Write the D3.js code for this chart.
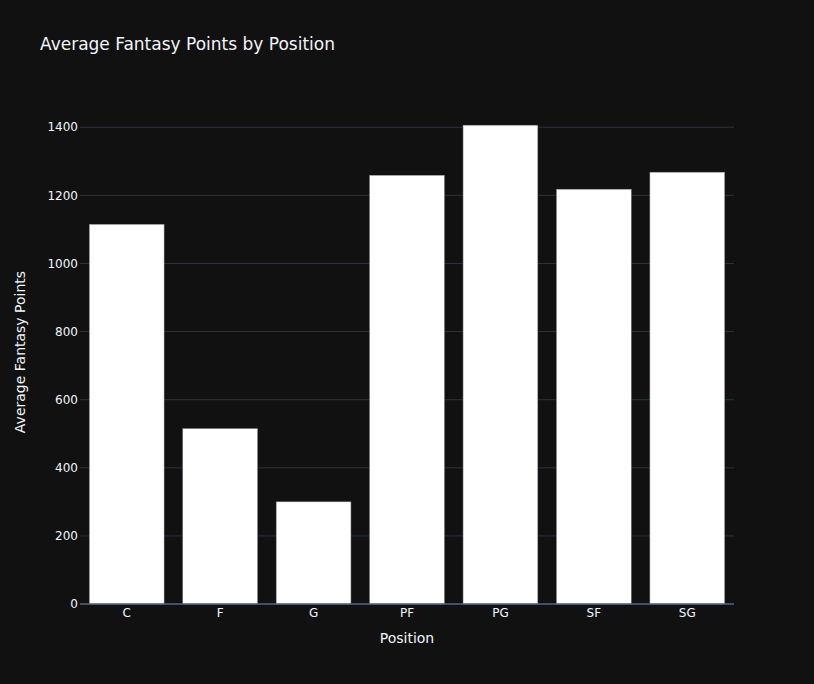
<!DOCTYPE html>
<html>
<head>
<meta charset="utf-8">
<script src="https://cdn.jsdelivr.net/npm/d3@7"></script>
<style>
  html, body { margin: 0; padding: 0; background: #111111; }
  svg { display: block; }
</style>
</head>
<body>
<div id="chart"></div>
<script>
// Dados do gráfico
const positions = ["C", "F", "G", "PF", "PG", "SF", "SG"];
const avgPoints = [1115, 515, 300, 1259, 1406, 1218, 1268];
const yTicks = [0, 200, 400, 600, 800, 1000, 1200, 1400];

const width = 814;
const height = 684;
const margin = { top: 100, right: 80, bottom: 80, left: 80 };
const font = '"DejaVu Sans", verdana, arial, sans-serif';
const textColor = "#f2f5fa";

const svg = d3.select("#chart")
    .append("svg")
    .attr("width", width)
    .attr("height", height)
    .style("background", "#111111");

const x = d3.scaleBand()
    .domain(positions)
    .range([margin.left, width - margin.right])
    .paddingInner(0.2)
    .paddingOuter(0.1);

const y = d3.scaleLinear()
    .domain([0, 1480])
    .range([height - margin.bottom, margin.top]);

// Grade horizontal
svg.append("g")
    .selectAll("line")
    .data(yTicks.filter(d => d > 0))
    .enter()
    .append("line")
    .attr("x1", margin.left)
    .attr("x2", width - margin.right)
    .attr("y1", d => y(d))
    .attr("y2", d => y(d))
    .attr("stroke", "#283442")
    .attr("stroke-width", 1);

// Barras
svg.append("g")
    .selectAll("rect")
    .data(positions)
    .enter()
    .append("rect")
    .attr("x", d => x(d))
    .attr("width", x.bandwidth())
    .attr("y", (d, i) => y(avgPoints[i]))
    .attr("height", (d, i) => y(0) - y(avgPoints[i]))
    .attr("fill", "#ffffff")
    .attr("stroke", "#888888")
    .attr("stroke-width", 0.5);

// Linha do zero
svg.append("line")
    .attr("x1", margin.left)
    .attr("x2", width - margin.right)
    .attr("y1", y(0))
    .attr("y2", y(0))
    .attr("stroke", "#506784")
    .attr("stroke-width", 1.5);

// Eixo Y
svg.append("g")
    .selectAll("text")
    .data(yTicks)
    .enter()
    .append("text")
    .attr("x", margin.left - 2)
    .attr("y", d => y(d))
    .attr("dy", "0.35em")
    .attr("text-anchor", "end")
    .attr("font-family", font)
    .attr("font-size", "12px")
    .attr("fill", textColor)
    .text(d => d);

// Eixo X
svg.append("g")
    .selectAll("text")
    .data(positions)
    .enter()
    .append("text")
    .attr("x", d => x(d) + x.bandwidth() / 2)
    .attr("y", y(0) + 13)
    .attr("text-anchor", "middle")
    .attr("font-family", font)
    .attr("font-size", "12px")
    .attr("fill", textColor)
    .text(d => d);

// Títulos dos eixos
svg.append("text")
    .attr("x", (margin.left + width - margin.right) / 2)
    .attr("y", 643)
    .attr("text-anchor", "middle")
    .attr("font-family", font)
    .attr("font-size", "14px")
    .attr("fill", textColor)
    .text("Position");

svg.append("text")
    .attr("transform", `translate(25, ${(margin.top + height - margin.bottom) / 2}) rotate(-90)`)
    .attr("text-anchor", "middle")
    .attr("font-family", font)
    .attr("font-size", "14px")
    .attr("fill", textColor)
    .text("Average Fantasy Points");

// Título
svg.append("text")
    .attr("x", 40)
    .attr("y", 50)
    .attr("font-family", font)
    .attr("font-size", "17px")
    .attr("fill", textColor)
    .text("Average Fantasy Points by Position");
</script>
</body>
</html>
